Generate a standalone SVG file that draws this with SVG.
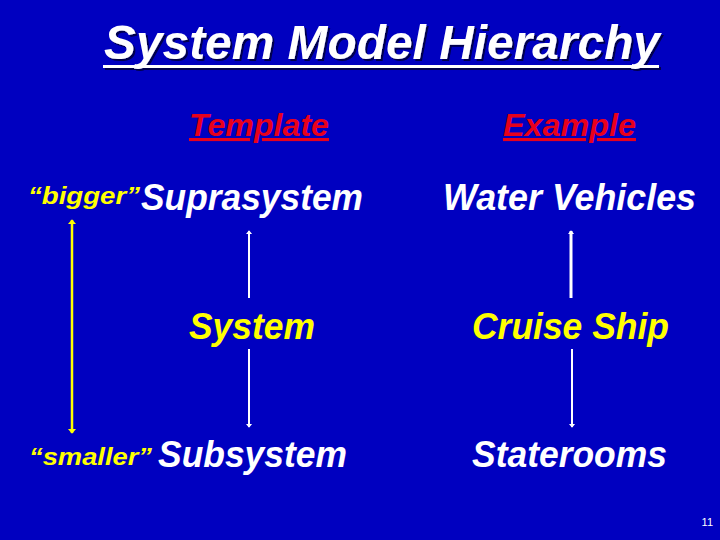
<svg xmlns="http://www.w3.org/2000/svg" width="720" height="540" viewBox="0 0 720 540">
<style>
text{font-family:"Liberation Sans",Arial,sans-serif;font-weight:bold;font-style:italic}
.w{fill:#fff}.y{fill:#ffff00}.r{fill:#e8001c;text-decoration:underline}
.big{font-size:37px}
</style>
<defs>
<filter id="sh" x="-5%" y="-20%" width="110%" height="150%"><feDropShadow dx="2" dy="2" stdDeviation="0.5" flood-color="#000" flood-opacity="0.6"/></filter>
<marker id="wa" viewBox="0 0 6 10" refX="5" refY="5" markerWidth="4" markerHeight="7" orient="auto-start-reverse" markerUnits="userSpaceOnUse"><path d="M0,0L6,5L0,10z" fill="#fff"/></marker>
<marker id="ya" viewBox="0 0 6 10" refX="5" refY="5" markerWidth="8" markerHeight="8" orient="auto-start-reverse" markerUnits="userSpaceOnUse"><path d="M0,0L6,5L0,10z" fill="#ffff00"/></marker>
</defs>
<rect width="720" height="540" fill="#0000c0"/>
<g id="title" filter="url(#sh)">
<text x="104" y="59" font-size="48" class="w" textLength="556" lengthAdjust="spacingAndGlyphs">System Model Hierarchy</text>
<rect x="103" y="65" width="556" height="3" fill="#fff"/>
</g>
<g id="hdr-template"><text x="189" y="136" font-size="31" class="r" textLength="140" lengthAdjust="spacingAndGlyphs">Template</text></g>
<g id="hdr-example"><text x="503" y="136" font-size="31" class="r" textLength="133" lengthAdjust="spacingAndGlyphs">Example</text></g>
<g id="bigger"><text x="28" y="204" font-size="24" class="y" textLength="112" lengthAdjust="spacingAndGlyphs">“bigger”</text></g>
<g id="suprasystem"><text x="141" y="210" class="w big" textLength="222" lengthAdjust="spacingAndGlyphs">Suprasystem</text></g>
<g id="water"><text x="443" y="210" class="w big" textLength="253" lengthAdjust="spacingAndGlyphs">Water Vehicles</text></g>
<g id="system"><text x="189" y="339" class="y big" textLength="126" lengthAdjust="spacingAndGlyphs">System</text></g>
<g id="cruise"><text x="472" y="339" class="y big" textLength="197" lengthAdjust="spacingAndGlyphs">Cruise Ship</text></g>
<g id="smaller"><text x="29" y="465" font-size="24" class="y" textLength="123" lengthAdjust="spacingAndGlyphs">“smaller”</text></g>
<g id="subsystem"><text x="158" y="467" class="w big" textLength="189" lengthAdjust="spacingAndGlyphs">Subsystem</text></g>
<g id="staterooms"><text x="472" y="467" class="w big" textLength="195" lengthAdjust="spacingAndGlyphs">Staterooms</text></g>
<g id="connectors" stroke-width="2">
<line x1="72" y1="220" x2="72" y2="433" stroke="#ffff00" stroke-width="2.5" marker-start="url(#ya)" marker-end="url(#ya)"/>
<line x1="249" y1="298" x2="249" y2="231" stroke="#fff" marker-end="url(#wa)"/>
<line x1="249" y1="349" x2="249" y2="427" stroke="#fff" marker-end="url(#wa)"/>
<line x1="571" y1="298" x2="571" y2="231" stroke="#fff" stroke-width="3" marker-end="url(#wa)"/>
<line x1="572" y1="349" x2="572" y2="427" stroke="#fff" marker-end="url(#wa)"/>
</g>
<text x="713" y="526" font-size="11" class="w" text-anchor="end" style="font-style:normal;font-weight:normal">11</text>
</svg>
